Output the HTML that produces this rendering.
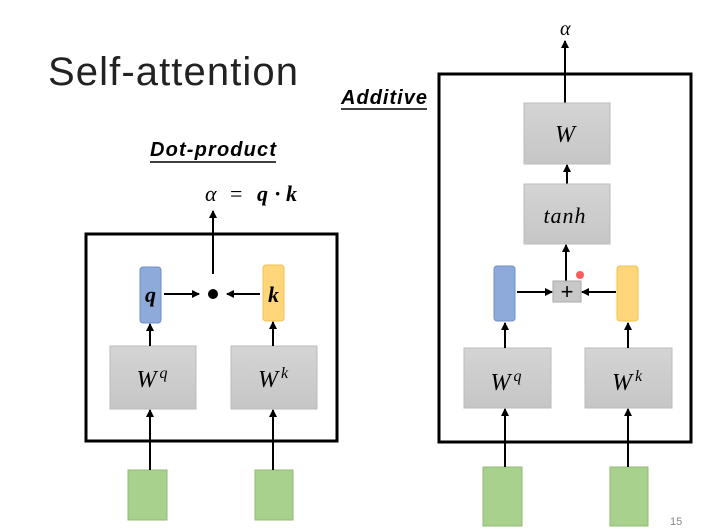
<!DOCTYPE html>
<html><head><meta charset="utf-8"><style>
body{margin:0;background:#fff;}
svg{display:block;}
</style></head><body>
<svg width="703" height="531" viewBox="0 0 703 531" xmlns="http://www.w3.org/2000/svg">
<defs>
<marker id="a" markerWidth="8" markerHeight="8" refX="7" refY="4" orient="auto" markerUnits="userSpaceOnUse">
<path d="M0,0 L8,4 L0,8 z" fill="#000"/></marker>
<linearGradient id="g" x1="0" y1="0" x2="0" y2="1"><stop offset="0" stop-color="#d4d4d4"/><stop offset="1" stop-color="#c6c6c6"/></linearGradient>
</defs>
<text x="48" y="85" font-family="Liberation Sans, sans-serif" font-size="40" fill="#222" textLength="250">Self-attention</text>
<text x="341" y="104" font-family="Liberation Sans, sans-serif" font-size="20" font-weight="bold" font-style="italic" textLength="86">Additive</text>
<line x1="341" y1="109" x2="427" y2="109" stroke="#000" stroke-width="1.5"/>
<text x="150" y="156" font-family="Liberation Sans, sans-serif" font-size="20" font-weight="bold" font-style="italic" textLength="126">Dot-product</text>
<line x1="150" y1="162" x2="276" y2="162" stroke="#000" stroke-width="1.5"/>

<!-- Left -->
<rect x="86" y="234" width="251" height="207" fill="none" stroke="#000" stroke-width="3"/>
<text x="205" y="201" font-family="Liberation Serif, serif" font-size="22" font-style="italic">α</text>
<text x="230" y="201" font-family="Liberation Serif, serif" font-size="22">=</text>
<text x="257" y="201" font-family="Liberation Serif, serif" font-size="22" font-weight="bold" font-style="italic">q</text>
<text x="274" y="201" font-family="Liberation Serif, serif" font-size="22" font-weight="bold">·</text>
<text x="286" y="201" font-family="Liberation Serif, serif" font-size="22" font-weight="bold" font-style="italic">k</text>
<line x1="213" y1="274" x2="213" y2="211" stroke="#000" stroke-width="2" marker-end="url(#a)"/>
<circle cx="213" cy="294" r="5" fill="#000"/>
<rect x="140" y="267" width="21" height="56" rx="3" fill="#8eaadb" stroke="#6f8fca"/>
<text x="150.5" y="302" text-anchor="middle" font-family="Liberation Serif, serif" font-size="22" font-weight="bold" font-style="italic">q</text>
<rect x="263" y="265" width="21" height="56" rx="3" fill="#ffd67a" stroke="#f0c050"/>
<text x="273.5" y="302" text-anchor="middle" font-family="Liberation Serif, serif" font-size="22" font-weight="bold" font-style="italic">k</text>
<line x1="164" y1="294" x2="199" y2="294" stroke="#000" stroke-width="2" marker-end="url(#a)"/>
<line x1="260" y1="294" x2="227" y2="294" stroke="#000" stroke-width="2" marker-end="url(#a)"/>
<rect x="110" y="346" width="86" height="63" fill="url(#g)" stroke="#bbb"/>
<text x="152" y="387" text-anchor="middle" font-family="Liberation Serif, serif" font-size="24" font-style="italic">W<tspan font-size="16" dy="-9" dx="3">q</tspan></text>
<rect x="231" y="346" width="86" height="63" fill="url(#g)" stroke="#bbb"/>
<text x="273" y="387" text-anchor="middle" font-family="Liberation Serif, serif" font-size="24" font-style="italic">W<tspan font-size="16" dy="-9" dx="3">k</tspan></text>
<line x1="150" y1="346" x2="150" y2="324" stroke="#000" stroke-width="2" marker-end="url(#a)"/>
<line x1="273" y1="346" x2="273" y2="322" stroke="#000" stroke-width="2" marker-end="url(#a)"/>
<rect x="128" y="470" width="39" height="50" fill="#a9d18e" stroke="#8fbc72"/>
<rect x="255" y="470" width="38" height="50" fill="#a9d18e" stroke="#8fbc72"/>
<line x1="150" y1="470" x2="150" y2="410" stroke="#000" stroke-width="2" marker-end="url(#a)"/>
<line x1="273" y1="470" x2="273" y2="410" stroke="#000" stroke-width="2" marker-end="url(#a)"/>

<!-- Right -->
<rect x="439" y="74" width="252" height="368" fill="none" stroke="#000" stroke-width="3"/>
<text x="560" y="35" font-family="Liberation Serif, serif" font-size="20" font-style="italic">α</text>
<line x1="565" y1="103" x2="565" y2="41" stroke="#000" stroke-width="2" marker-end="url(#a)"/>
<rect x="524" y="103" width="86" height="61" fill="url(#g)" stroke="#bbb"/>
<text x="565" y="142" text-anchor="middle" font-family="Liberation Serif, serif" font-size="24" font-style="italic">W</text>
<line x1="567" y1="184" x2="567" y2="165" stroke="#000" stroke-width="2" marker-end="url(#a)"/>
<rect x="524" y="184" width="86" height="60" fill="url(#g)" stroke="#bbb"/>
<text x="565" y="223" text-anchor="middle" font-family="Liberation Serif, serif" font-size="22" font-style="italic" letter-spacing="1">tanh</text>
<line x1="566" y1="281" x2="566" y2="245" stroke="#000" stroke-width="2" marker-end="url(#a)"/>
<circle cx="580" cy="275" r="4" fill="#f33" opacity="0.8"/>
<rect x="553" y="281" width="28" height="21" fill="#c8c8c8" stroke="#aaa"/>
<text x="567" y="299" text-anchor="middle" font-family="Liberation Sans, sans-serif" font-size="22">+</text>
<rect x="494" y="266" width="21" height="55" rx="3" fill="#8eaadb" stroke="#6f8fca"/>
<rect x="617" y="266" width="21" height="55" rx="3" fill="#ffd67a" stroke="#f0c050"/>
<line x1="517" y1="292" x2="552" y2="292" stroke="#000" stroke-width="2" marker-end="url(#a)"/>
<line x1="616" y1="292" x2="582" y2="292" stroke="#000" stroke-width="2" marker-end="url(#a)"/>
<rect x="464" y="348" width="87" height="60" fill="url(#g)" stroke="#bbb"/>
<text x="506" y="390" text-anchor="middle" font-family="Liberation Serif, serif" font-size="24" font-style="italic">W<tspan font-size="16" dy="-9" dx="3">q</tspan></text>
<rect x="585" y="348" width="87" height="60" fill="url(#g)" stroke="#bbb"/>
<text x="627" y="390" text-anchor="middle" font-family="Liberation Serif, serif" font-size="24" font-style="italic">W<tspan font-size="16" dy="-9" dx="3">k</tspan></text>
<line x1="505" y1="348" x2="505" y2="323" stroke="#000" stroke-width="2" marker-end="url(#a)"/>
<line x1="628" y1="348" x2="628" y2="323" stroke="#000" stroke-width="2" marker-end="url(#a)"/>
<rect x="483" y="467" width="39" height="59" fill="#a9d18e" stroke="#8fbc72"/>
<rect x="610" y="467" width="38" height="59" fill="#a9d18e" stroke="#8fbc72"/>
<line x1="505" y1="467" x2="505" y2="409" stroke="#000" stroke-width="2" marker-end="url(#a)"/>
<line x1="628" y1="467" x2="628" y2="409" stroke="#000" stroke-width="2" marker-end="url(#a)"/>
<text x="670" y="525" font-family="Liberation Sans, sans-serif" font-size="11" fill="#888">15</text>
</svg>
</body></html>
